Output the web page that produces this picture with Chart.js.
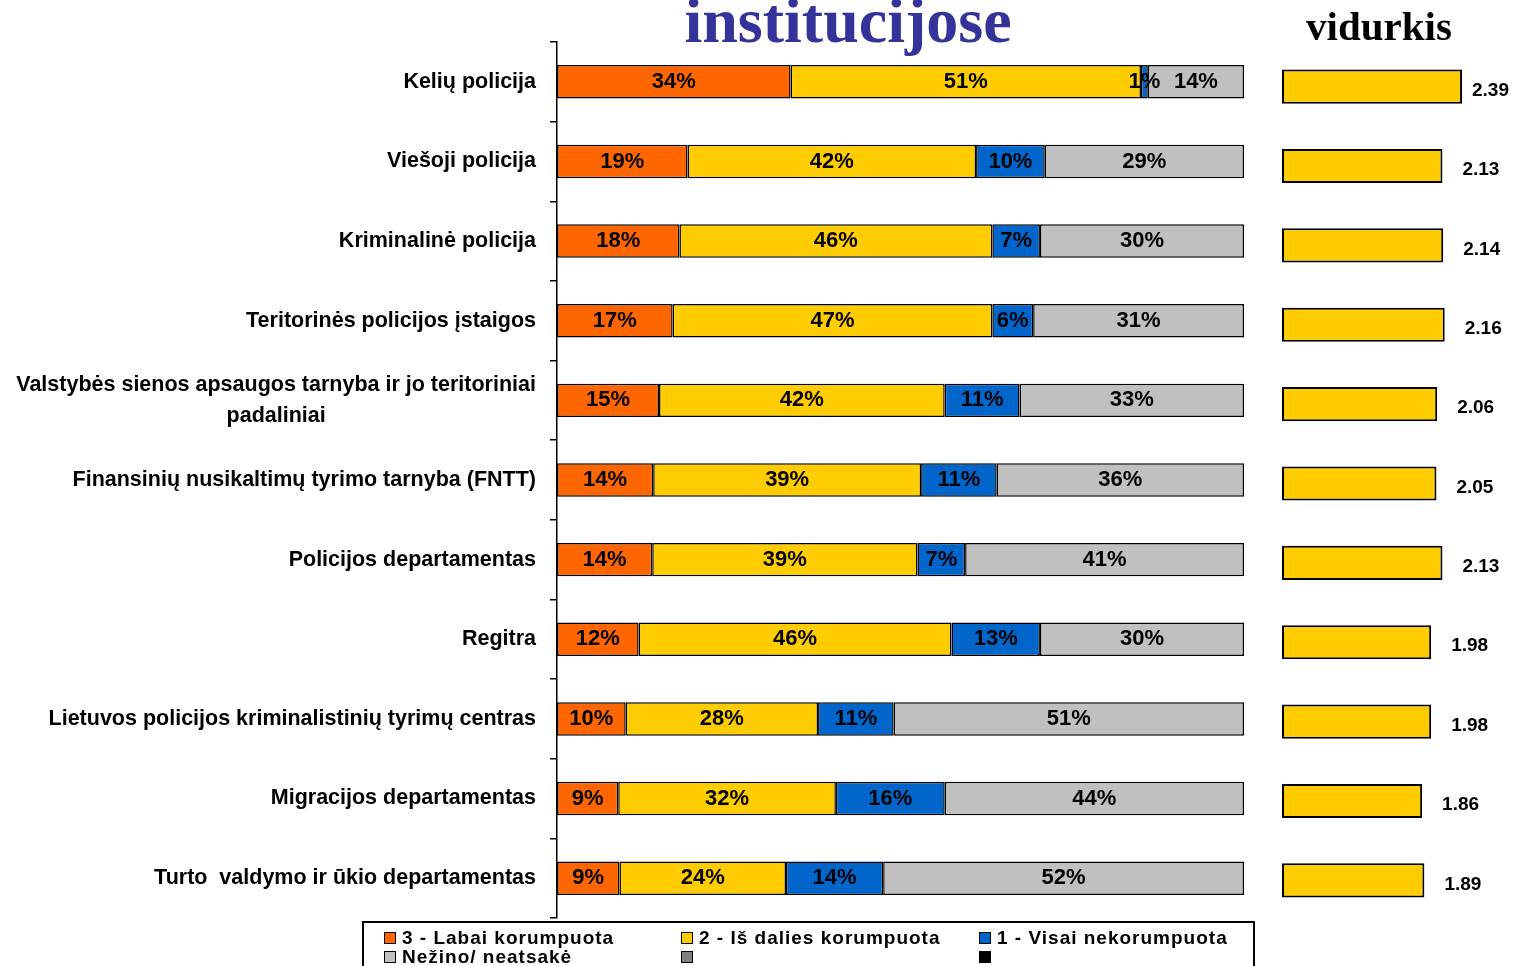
<!DOCTYPE html>
<html>
<head>
<meta charset="utf-8">
<script src="https://cdn.jsdelivr.net/npm/chart.js@4.4.0/dist/chart.umd.min.js"></script>
<style>
html, body { margin: 0; padding: 0; background: #fff; overflow: hidden; }
#leftBox { position: absolute; left: 0; top: 0; width: 1262px; height: 966px; }
#rightBox { position: absolute; left: 1262px; top: 0; width: 252px; height: 966px; }
</style>
</head>
<body>
<div id="leftBox"><canvas id="left"></canvas></div>
<div id="rightBox"><canvas id="right"></canvas></div>
<script>
// kategorijos ir reiksmes (nuskaitytos is paveikslo)
const categories = [
    'Kelių policija',
    'Viešoji policija',
    'Kriminalinė policija',
    'Teritorinės policijos įstaigos',
    ['Valstybės sienos apsaugos tarnyba ir jo teritoriniai', 'padaliniai'],
    'Finansinių nusikaltimų tyrimo tarnyba (FNTT)',
    'Policijos departamentas',
    'Regitra',
    'Lietuvos policijos kriminalistinių tyrimų centras',
    'Migracijos departamentas',
    'Turto  valdymo ir ūkio departamentas'
]
const labaiKorumpuota = [34, 19, 18, 17, 15, 14, 14, 12, 10, 9, 9]
const isDaliesKorumpuota = [51, 42, 46, 47, 42, 39, 39, 46, 28, 32, 24]
const visaiNekorumpuota = [1, 10, 7, 6, 11, 11, 7, 13, 11, 16, 14]
const nezino = [14, 29, 30, 31, 33, 36, 41, 30, 51, 44, 52]
const vidurkis = [2.39, 2.13, 2.14, 2.16, 2.06, 2.05, 2.13, 1.98, 1.98, 1.86, 1.89]
const seriesNames = ['3 - Labai korumpuota', '2 - Iš dalies korumpuota', '1 - Visai nekorumpuota', 'Nežino/ neatsakė', '', '']
const seriesColors = ['#FF6600', '#FFCC00', '#0066CC', '#C0C0C0', '#808080', '#000000']

const raw = [labaiKorumpuota, isDaliesKorumpuota, visaiNekorumpuota, nezino]
// 100% stacked: kiekviena eilute normalizuojama iki 100
const totals = categories.map((c, i) => raw.reduce((s, arr) => s + arr[i], 0))
const normalized = raw.map(arr => arr.map((v, i) => v / totals[i] * 100))

const datasets = seriesNames.map((name, k) => ({
    label: name,
    data: k < 4 ? normalized[k] : categories.map(() => 0),
    backgroundColor: seriesColors[k],
    borderColor: '#000',
    borderWidth: 1.5,
    borderSkipped: false,
    barPercentage: 0.42,
    categoryPercentage: 1
}))

const leftPlugin = {
    id: 'leftExtras',
    afterDraw(chart) {
        const ctx = chart.ctx
        const yScale = chart.scales.y
        ctx.save()
        // pavadinimas
        ctx.fillStyle = '#333399'
        ctx.font = 'bold 64px "Liberation Serif", "Times New Roman", serif'
        ctx.textAlign = 'center'
        ctx.textBaseline = 'alphabetic'
        ctx.fillText('institucijose', 848, 42)

        // kategoriju pavadinimai
        ctx.fillStyle = '#000'
        ctx.font = 'bold 21.5px "Liberation Sans", Arial, sans-serif'
        ctx.textBaseline = 'middle'
        categories.forEach((lab, i) => {
            const y = yScale.getPixelForValue(i)
            if (Array.isArray(lab)) {
                const w = Math.max(...lab.map(l => ctx.measureText(l).width))
                ctx.textAlign = 'center'
                lab.forEach((l, j) => {
                    ctx.fillText(l, 536 - w / 2, y + (j - (lab.length - 1) / 2) * 31)
                })
            } else {
                ctx.textAlign = 'right'
                ctx.fillText(lab, 536, y)
            }
        })

        // reiksmiu etiketes
        ctx.font = 'bold 22px "Liberation Sans", Arial, sans-serif'
        ctx.textAlign = 'center'
        for (let k = 0; k < 4; k++) {
            chart.getDatasetMeta(k).data.forEach((el, i) => {
                ctx.fillText(raw[k][i] + '%', (el.x + el.base) / 2, el.y)
            })
        }

        // legenda
        ctx.strokeStyle = '#000'
        ctx.lineWidth = 2
        ctx.strokeRect(363, 922, 891, 60)
        const colX = [384, 681, 979]
        const rowY = [938, 957]
        ctx.font = 'bold 19px "Liberation Sans", Arial, sans-serif'
        ctx.textAlign = 'left'
        if ('letterSpacing' in ctx) ctx.letterSpacing = '1px'
        chart.data.datasets.forEach((ds, k) => {
            const x = colX[k % 3]
            const y = rowY[Math.floor(k / 3)]
            ctx.fillStyle = ds.backgroundColor
            ctx.fillRect(x, y - 6, 12, 12)
            ctx.lineWidth = 1
            ctx.strokeRect(x + 0.5, y - 5.5, 11, 11)
            ctx.fillStyle = '#000'
            ctx.fillText(ds.label, x + 18, y + 1)
        })
        ctx.restore()
    }
}

new Chart(document.getElementById('left'), {
    type: 'bar',
    data: { labels: categories, datasets: datasets },
    options: {
        indexAxis: 'y',
        responsive: true,
        maintainAspectRatio: false,
        animation: false,
        layout: { padding: { left: 550, right: 18, top: 42, bottom: 48 } },
        scales: {
            x: { stacked: true, min: 0, max: 100, display: false },
            y: {
                stacked: true,
                grid: { offset: true, drawOnChartArea: false, drawTicks: true, tickLength: 7, color: '#000', tickColor: '#000', lineWidth: 1.5 },
                border: { display: true, color: '#000', width: 1.5 },
                ticks: { display: false }
            }
        },
        plugins: { legend: { display: false }, tooltip: { enabled: false } }
    },
    plugins: [leftPlugin]
})

const rightPlugin = {
    id: 'rightExtras',
    afterDraw(chart) {
        const ctx = chart.ctx
        ctx.save()
        ctx.fillStyle = '#000'
        ctx.font = 'bold 41px "Liberation Serif", "Times New Roman", serif'
        ctx.textAlign = 'center'
        ctx.textBaseline = 'alphabetic'
        ctx.fillText('vidurkis', 117, 40)

        ctx.font = 'bold 19px "Liberation Sans", Arial, sans-serif'
        ctx.textAlign = 'left'
        ctx.textBaseline = 'middle'
        chart.getDatasetMeta(0).data.forEach((el, i) => {
            const x = Math.min(el.x + 20, chart.width - 42)
            ctx.fillText(vidurkis[i].toFixed(2), x, el.y + 4)
        })
        ctx.restore()
    }
}

new Chart(document.getElementById('right'), {
    type: 'bar',
    data: {
        labels: categories,
        datasets: [{
            label: 'vidurkis',
            data: vidurkis,
            backgroundColor: '#FFCC00',
            borderColor: '#000',
            borderWidth: 2,
            borderSkipped: false,
            barPercentage: 0.43,
            categoryPercentage: 1
        }]
    },
    options: {
        indexAxis: 'y',
        responsive: true,
        maintainAspectRatio: false,
        animation: false,
        layout: { padding: { left: 20, right: 6, top: 47, bottom: 46 } },
        scales: {
            x: { min: 0, max: 3, display: false },
            y: { display: false }
        },
        plugins: { legend: { display: false }, tooltip: { enabled: false } }
    },
    plugins: [rightPlugin]
})
</script>
</body>
</html>
